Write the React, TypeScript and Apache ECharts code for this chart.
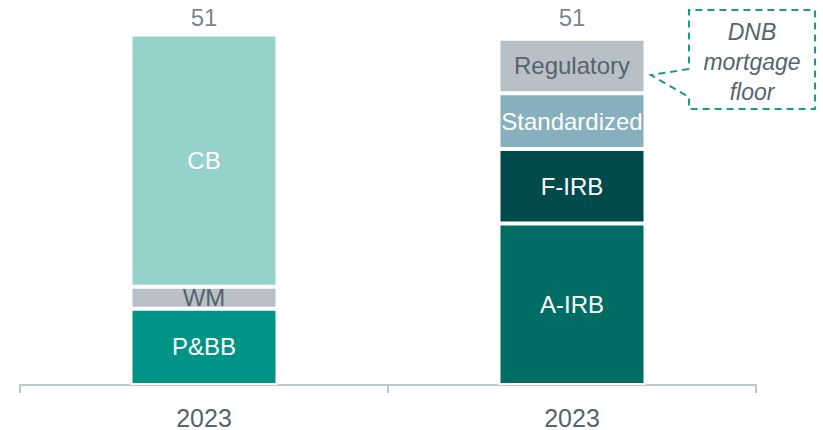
import React, { useEffect, useRef } from "react";
import * as echarts from "echarts";

const categories = ["2023", "2023"];
const pbb = [11.2, "-"];
const wm = [3.2, "-"];
const cb = [37.0, "-"];
const airb = ["-", 23.7];
const firb = ["-", 10.9];
const standardized = ["-", 8.2];
const regulatory = ["-", 8.0];
const calloutText = "DNB\nmortgage\nfloor";

const num = (v: any) => (typeof v === "number" ? v : 0);
const totals = categories.map((_, i) =>
  [pbb, wm, cb, airb, firb, standardized, regulatory].reduce((s, a) => s + num(a[i]), 0)
);

const FONT = "'Liberation Sans', Arial, sans-serif";
const TEXT = "#55646E";

export default function App() {
  const ref = useRef<HTMLDivElement>(null);
  useEffect(() => {
    const chart = echarts.init(ref.current!, undefined, { renderer: "svg" });
    const seg = (name: string, data: any[], color: string, labelColor: string) => ({
      name,
      type: "bar",
      stack: "s",
      data,
      barWidth: 147,
      itemStyle: { color, borderColor: "#fff", borderWidth: 2 },
      label: {
        show: true,
        position: "inside",
        formatter: name,
        color: labelColor,
        fontSize: 24,
        fontFamily: FONT,
      },
    });
    const maxTotal = Math.max(...totals);
    chart.setOption({
      animation: false,
      grid: { left: 20, right: 67, top: 10, bottom: 45 },
      xAxis: {
        type: "category",
        data: categories,
        axisLine: { lineStyle: { color: "#BFC6CB", width: 2 } },
        axisTick: { show: true, length: 8, lineStyle: { color: "#BFC6CB", width: 2 } },
        axisLabel: { color: TEXT, fontSize: 25, fontFamily: FONT, margin: 20 },
      },
      yAxis: { type: "value", min: 0, max: 55, show: false, splitLine: { show: false } },
      series: [
        seg("P&BB", pbb, "#009488", "#ffffff"),
        seg("WM", wm, "#B9C1C6", TEXT),
        seg("CB", cb, "#96D2CC", "#ffffff"),
        seg("A-IRB", airb, "#006D64", "#ffffff"),
        seg("F-IRB", firb, "#004A4B", "#ffffff"),
        seg("Standardized", standardized, "#87B0BE", "#ffffff"),
        seg("Regulatory", regulatory, "#B8C0C5", TEXT),
        {
          type: "scatter",
          data: totals.map(() => maxTotal),
          symbolSize: 0,
          label: {
            show: true,
            position: "top",
            distance: 5,
            formatter: (p: any) => String(Math.round(totals[p.dataIndex])),
            color: TEXT,
            fontSize: 24,
            fontFamily: FONT,
          },
        },
      ],
      graphic: [
        {
          type: "polyline",
          shape: {
            points: [
              [689, 69],
              [651, 75],
              [689, 97],
              [689, 109],
              [815, 109],
              [815, 10],
              [689, 10],
              [689, 69],
            ],
          },
          style: { stroke: "#1A9B8B", lineWidth: 2, lineDash: [7, 5], fill: null },
        },
        {
          type: "text",
          x: 752,
          y: 62,
          style: {
            text: calloutText,
            align: "center",
            verticalAlign: "middle",
            fontSize: 23,
            fontStyle: "italic",
            lineHeight: 30,
            fontFamily: FONT,
            fill: TEXT,
          },
        },
      ],
    });
    return () => chart.dispose();
  }, []);
  return <div ref={ref} style={{ width: 823, height: 430, position: "absolute", left: 0, top: 0 }} />;
}
